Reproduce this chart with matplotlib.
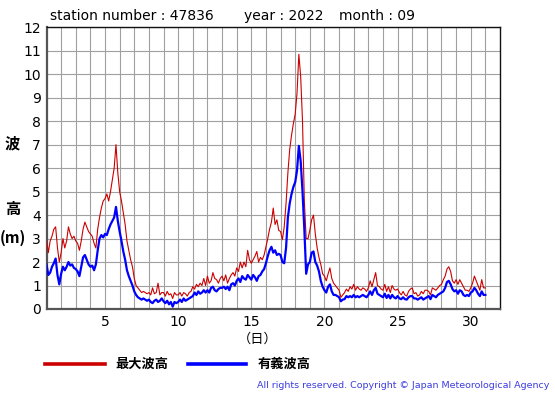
import numpy as np
import matplotlib
matplotlib.use("Agg")
import matplotlib.pyplot as plt
from matplotlib.lines import Line2D

# 3-hourly samples, Sept 1 00h .. Oct 1 00h (day 31.0)
max_wave = [
    3.0, 2.4, 2.9, 3.1, 3.4, 3.5, 2.6, 2.0,      # 1
    2.4, 3.0, 2.6, 2.9, 3.5, 3.2, 3.0, 3.1,      # 2
    2.9, 2.8, 2.5, 2.9, 3.4, 3.7, 3.5, 3.3,      # 3
    3.2, 3.1, 2.8, 2.6, 3.4, 3.9, 4.3, 4.6,      # 4
    4.7, 4.9, 4.6, 5.0, 5.5, 6.0, 7.0, 5.8,      # 5
    5.0, 4.6, 4.1, 3.6, 2.9, 2.5, 2.1, 1.8,      # 6
    1.3, 1.0, 0.9, 0.8, 0.7, 0.75, 0.7, 0.65,    # 7
    0.7, 0.6, 0.9, 0.65, 0.7, 1.1, 0.6, 0.7,     # 8
    0.7, 0.55, 0.75, 0.6, 0.65, 0.45, 0.7, 0.6,  # 9
    0.6, 0.7, 0.55, 0.7, 0.65, 0.55, 0.7, 0.75,  # 10
    0.95, 0.85, 1.05, 0.95, 1.1, 1.0, 1.3, 1.0,  # 11
    1.4, 1.1, 1.2, 1.55, 1.3, 1.25, 1.1, 1.3,    # 12
    1.4, 1.2, 1.45, 1.1, 1.3, 1.45, 1.55, 1.4,   # 13
    1.75, 1.6, 2.0, 1.75, 2.0, 1.8, 2.5, 2.1,    # 14
    1.95, 2.1, 2.25, 2.45, 2.0, 2.2, 2.1, 2.3,   # 15
    2.65, 3.0, 3.4, 3.7, 4.3, 3.6, 3.8, 3.35,    # 16
    3.3, 2.95, 3.5, 4.5, 5.8, 6.8, 7.4, 7.9,     # 17
    8.3, 9.2, 10.85, 9.9, 8.0, 4.6, 3.0, 3.0,    # 18
    3.35, 3.8, 4.0, 3.2, 2.6, 2.2, 1.9, 1.5,     # 19
    1.4, 1.2, 1.5, 1.75, 1.3, 1.1, 1.0, 0.9,     # 20
    0.8, 0.5, 0.6, 0.7, 0.85, 0.75, 0.95, 0.85,  # 21
    1.05, 0.8, 0.95, 0.85, 0.8, 0.9, 0.85, 0.75, # 22
    0.9, 1.2, 0.95, 1.25, 1.55, 1.0, 0.95, 0.85, # 23
    0.8, 1.05, 0.75, 0.95, 0.7, 1.0, 0.85, 0.8,  # 24
    0.85, 0.7, 0.6, 0.75, 0.6, 0.55, 0.75, 0.85, # 25
    0.9, 0.65, 0.7, 0.55, 0.6, 0.75, 0.65, 0.8,  # 26
    0.8, 0.75, 0.6, 0.9, 0.85, 0.8, 0.9, 1.0,    # 27
    1.05, 1.25, 1.4, 1.7, 1.8, 1.6, 1.2, 1.1,    # 28
    1.25, 1.05, 1.25, 1.1, 0.95, 0.8, 0.8, 0.75, # 29
    0.9, 1.1, 1.4, 1.2, 1.0, 0.8, 1.25, 0.9,     # 30
    0.9,
]

sig_wave = [
    1.9, 1.45, 1.55, 1.8, 1.95, 2.15, 1.45, 1.05,  # 1
    1.5, 1.8, 1.65, 1.8, 2.0, 1.85, 1.9, 1.75,     # 2
    1.7, 1.6, 1.4, 1.8, 2.2, 2.3, 2.1, 1.9,        # 3
    1.8, 1.85, 1.65, 1.9, 2.5, 3.0, 3.15, 3.05,    # 4
    3.2, 3.15, 3.4, 3.6, 3.75, 3.9, 4.35, 3.75,    # 5
    3.3, 2.9, 2.45, 2.1, 1.65, 1.4, 1.2, 1.0,      # 6
    0.75, 0.6, 0.5, 0.45, 0.4, 0.45, 0.4, 0.35,    # 7
    0.4, 0.3, 0.25, 0.35, 0.4, 0.3, 0.35, 0.45,    # 8
    0.33, 0.25, 0.35, 0.2, 0.3, 0.1, 0.3, 0.25,    # 9
    0.3, 0.4, 0.3, 0.45, 0.35, 0.4, 0.45, 0.5,     # 10
    0.55, 0.7, 0.6, 0.75, 0.65, 0.7, 0.8, 0.7,     # 11
    0.8, 0.7, 0.9, 0.95, 0.8, 0.75, 0.85, 0.9,     # 12
    0.9, 0.95, 0.85, 0.95, 0.8, 1.05, 1.1, 1.0,    # 13
    1.2, 1.3, 1.15, 1.4, 1.3, 1.25, 1.45, 1.35,    # 14
    1.25, 1.45, 1.35, 1.2, 1.4, 1.45, 1.6, 1.7,    # 15
    1.95, 2.25, 2.5, 2.65, 2.4, 2.5, 2.3, 2.35,    # 16
    2.3, 2.0, 1.95, 2.6, 3.9, 4.5, 4.9, 5.2,       # 17
    5.4, 5.9, 6.95, 6.3, 5.0, 3.4, 1.5, 1.9,       # 18
    2.0, 2.4, 2.45, 2.0, 1.85, 1.6, 1.2, 0.95,     # 19
    0.8, 0.7, 0.95, 1.05, 0.75, 0.6, 0.6, 0.55,    # 20
    0.5, 0.33, 0.4, 0.42, 0.55, 0.5, 0.55, 0.5,    # 21
    0.6, 0.5, 0.55, 0.5, 0.55, 0.6, 0.55, 0.5,     # 22
    0.6, 0.75, 0.6, 0.8, 0.9, 0.65, 0.6, 0.55,     # 23
    0.5, 0.65, 0.47, 0.6, 0.45, 0.6, 0.5, 0.45,    # 24
    0.55, 0.45, 0.42, 0.5, 0.42, 0.4, 0.5, 0.55,   # 25
    0.55, 0.45, 0.45, 0.4, 0.45, 0.5, 0.4, 0.45,   # 26
    0.5, 0.55, 0.42, 0.6, 0.55, 0.5, 0.6, 0.65,    # 27
    0.7, 0.75, 0.9, 1.15, 1.2, 1.05, 0.85, 0.75,   # 28
    0.8, 0.65, 0.8, 0.75, 0.6, 0.55, 0.6, 0.55,    # 29
    0.7, 0.75, 0.9, 0.8, 0.65, 0.55, 0.75, 0.6,    # 30
    0.6,
]

x_ticks = [5, 10, 15, 20, 25, 30]
y_ticks = list(range(0, 13))

days = 1 + np.arange(len(max_wave)) * 3 / 24.0

W, H = 555, 395
fig = plt.figure(figsize=(W / 100, H / 100), dpi=100)
ax = fig.add_axes([46.5 / W, (H - 309) / H, (500 - 46.5) / W, (309 - 27.3) / H])

ax.set_xlim(1, 32)
ax.set_ylim(0, 12)
ax.set_xticks(np.arange(2, 32), minor=True)
ax.set_xticks(x_ticks)
ax.set_yticks(y_ticks)
ax.grid(True, which="both", color="#a0a0a0", lw=0.8)
ax.set_axisbelow(True)
ax.tick_params(which="both", length=0, labelsize=10, pad=4)
for s in ["top", "right"]:
    ax.spines[s].set_color("#111111")
    ax.spines[s].set_linewidth(1.0)
for s in ["left", "bottom"]:
    ax.spines[s].set_color("#555555")
    ax.spines[s].set_linewidth(1.6)

ax.plot(days, max_wave, color="#cc0000", lw=0.8, zorder=3)
ax.plot(days, sig_wave, color="#0000ff", lw=1.6, zorder=4)

cjk = ["Noto Sans CJK JP", "DejaVu Sans"]
fig.text(49.6 / W, 1 - 16 / H, "station number : 47836", fontsize=10, va="center", ha="left")
fig.text(244 / W, 1 - 16 / H, "year : 2022", fontsize=10, va="center", ha="left")
fig.text(339 / W, 1 - 16 / H, "month : 09", fontsize=10, va="center", ha="left")

fig.text(12.5 / W, 1 - 143 / H, "波", family=cjk, fontsize=11, fontweight="bold", ha="center", va="center")
fig.text(12.5 / W, 1 - 209 / H, "高", family=cjk, fontsize=11, fontweight="bold", ha="center", va="center")
fig.text(12.5 / W, 1 - 238 / H, "(m)", family=cjk, fontsize=11, fontweight="bold", ha="center", va="center")
fig.text(258 / W, 1 - 339 / H, "（日）", family=cjk, fontsize=9.5, ha="center", va="center")

ly = 1 - 364 / H
fig.add_artist(Line2D([45 / W, 105 / W], [ly, ly], color="#cc0000", lw=2.6))
fig.text(115 / W, ly, "最大波高", family=cjk, fontsize=9.5, fontweight="bold", ha="left", va="center")
fig.add_artist(Line2D([188 / W, 246 / W], [ly, ly], color="#0000ff", lw=2.6))
fig.text(258 / W, ly, "有義波高", family=cjk, fontsize=9.5, fontweight="bold", ha="left", va="center")

fig.text(549 / W, 1 - 385 / H, "All rights reserved. Copyright © Japan Meteorological Agency",
         fontsize=6.8, color="#3c3ce0", ha="right", va="center")

fig.savefig("out.png", dpi=100)
